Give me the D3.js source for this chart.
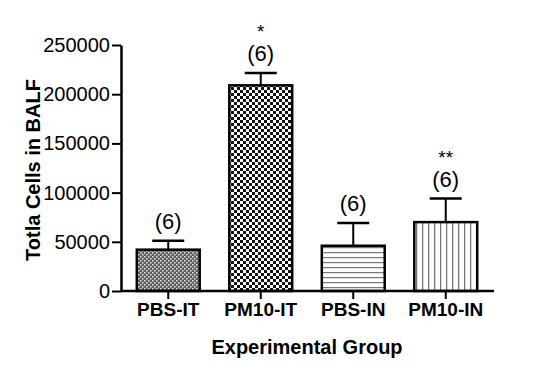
<!DOCTYPE html>
<html>
<head>
<meta charset="utf-8">
<script src="https://cdn.jsdelivr.net/npm/d3@7"></script>
<style>
  body { margin: 0; background: #fff; }
  svg { display: block; font-family: "Liberation Sans", Arial, sans-serif; }
</style>
</head>
<body>
<div id="chart"></div>
<script>
// data
var groups = ['PBS-IT', 'PM10-IT', 'PBS-IN', 'PM10-IN'];
var means = [42000, 209000, 46000, 70000];
var sems = [9000, 12500, 23000, 24000];
var counts = ['(6)', '(6)', '(6)', '(6)'];
var stars = ['', '*', '', '**'];
var yTicks = [0, 50000, 100000, 150000, 200000, 250000];
var fills = ['url(#dots)', 'url(#checker)', 'url(#hlines)', 'url(#vlines)'];

var width = 549, height = 372;

var svg = d3.select('#chart')
  .append('svg')
  .attr('width', width)
  .attr('height', height);

// fill patterns
var defs = svg.append('defs');

var dots = defs.append('pattern').attr('id', 'dots')
  .attr('patternUnits', 'userSpaceOnUse').attr('width', 4).attr('height', 4);
dots.append('rect').attr('width', 4).attr('height', 4).attr('fill', '#5e5e5e');
dots.append('rect').attr('x', 0).attr('y', 0).attr('width', 1.5).attr('height', 1.5).attr('fill', '#e8e8e8');
dots.append('rect').attr('x', 2).attr('y', 2).attr('width', 1.5).attr('height', 1.5).attr('fill', '#e8e8e8');

var checker = defs.append('pattern').attr('id', 'checker')
  .attr('patternUnits', 'userSpaceOnUse').attr('width', 6).attr('height', 6);
checker.append('rect').attr('width', 6).attr('height', 6).attr('fill', '#fff');
checker.append('rect').attr('x', 0).attr('y', 0).attr('width', 3).attr('height', 3).attr('fill', '#111');
checker.append('rect').attr('x', 3).attr('y', 3).attr('width', 3).attr('height', 3).attr('fill', '#111');

var hl = defs.append('pattern').attr('id', 'hlines')
  .attr('patternUnits', 'userSpaceOnUse').attr('width', 5).attr('height', 5);
hl.append('rect').attr('width', 5).attr('height', 5).attr('fill', '#fff');
hl.append('rect').attr('x', 0).attr('y', 2).attr('width', 5).attr('height', 1.2).attr('fill', '#777');

var vl = defs.append('pattern').attr('id', 'vlines')
  .attr('patternUnits', 'userSpaceOnUse').attr('width', 6).attr('height', 6);
vl.append('rect').attr('width', 6).attr('height', 6).attr('fill', '#fff');
vl.append('rect').attr('x', 2).attr('y', 0).attr('width', 1.3).attr('height', 6).attr('fill', '#777');

// scales
var x = d3.scaleBand().domain(groups).range([122, 492]).paddingInner(0.32).paddingOuter(0.16);
var y = d3.scaleLinear().domain([0, 250000]).range([291, 45]);

// bars
var bars = svg.append('g');
bars.selectAll('rect.bar')
  .data(groups)
  .enter().append('rect')
  .attr('class', 'bar')
  .attr('x', function(d) { return x(d); })
  .attr('y', function(d, i) { return y(means[i]); })
  .attr('width', x.bandwidth())
  .attr('height', function(d, i) { return y(0) - y(means[i]); })
  .attr('fill', function(d, i) { return fills[i]; })
  .attr('stroke', '#000')
  .attr('stroke-width', 2.5);

// error bars (upper only) + n and significance labels
var capW = 32;
groups.forEach(function(g, i) {
  var cx = x(g) + x.bandwidth() / 2;
  var top = y(means[i] + sems[i]);
  bars.append('line')
    .attr('x1', cx).attr('x2', cx)
    .attr('y1', y(means[i])).attr('y2', top)
    .attr('stroke', '#000').attr('stroke-width', 2);
  bars.append('line')
    .attr('x1', cx - capW / 2).attr('x2', cx + capW / 2)
    .attr('y1', top).attr('y2', top)
    .attr('stroke', '#000').attr('stroke-width', 2.5);
  bars.append('text')
    .attr('x', cx).attr('y', top - 12)
    .attr('text-anchor', 'middle')
    .attr('font-size', 22)
    .text(counts[i]);
  if (stars[i]) {
    bars.append('text')
      .attr('x', cx).attr('y', top - 35)
      .attr('text-anchor', 'middle')
      .attr('font-size', 19)
      .text(stars[i]);
  }
});

// axes
var yAxis = svg.append('g')
  .attr('transform', 'translate(121,0)')
  .call(d3.axisLeft(y).tickValues(yTicks).tickFormat(d3.format('d')).tickSize(9).tickSizeOuter(0).tickPadding(2));
yAxis.selectAll('text').attr('font-size', 20).attr('fill', '#000').attr('font-family', null);
yAxis.selectAll('line').attr('stroke', '#000').attr('stroke-width', 2);
yAxis.select('.domain').attr('stroke', '#000').attr('stroke-width', 2.5);

var xAxis = svg.append('g')
  .attr('transform', 'translate(0,291)')
  .call(d3.axisBottom(x).tickSize(8).tickSizeOuter(0).tickPadding(4));
xAxis.select('.domain').attr('d', 'M121,0H494').attr('stroke', '#000').attr('stroke-width', 2.5);
xAxis.selectAll('line').attr('stroke', '#000').attr('stroke-width', 2);
xAxis.selectAll('text').attr('font-size', 19).attr('font-weight', 'bold').attr('fill', '#000').attr('font-family', null);

// axis titles
svg.append('text')
  .attr('x', 307).attr('y', 354)
  .attr('text-anchor', 'middle')
  .attr('font-size', 20).attr('font-weight', 'bold')
  .text('Experimental Group');

svg.append('text')
  .attr('transform', 'translate(40,170) rotate(-90)')
  .attr('text-anchor', 'middle')
  .attr('font-size', 20).attr('font-weight', 'bold')
  .text('Totla Cells in BALF');
</script>
</body>
</html>
